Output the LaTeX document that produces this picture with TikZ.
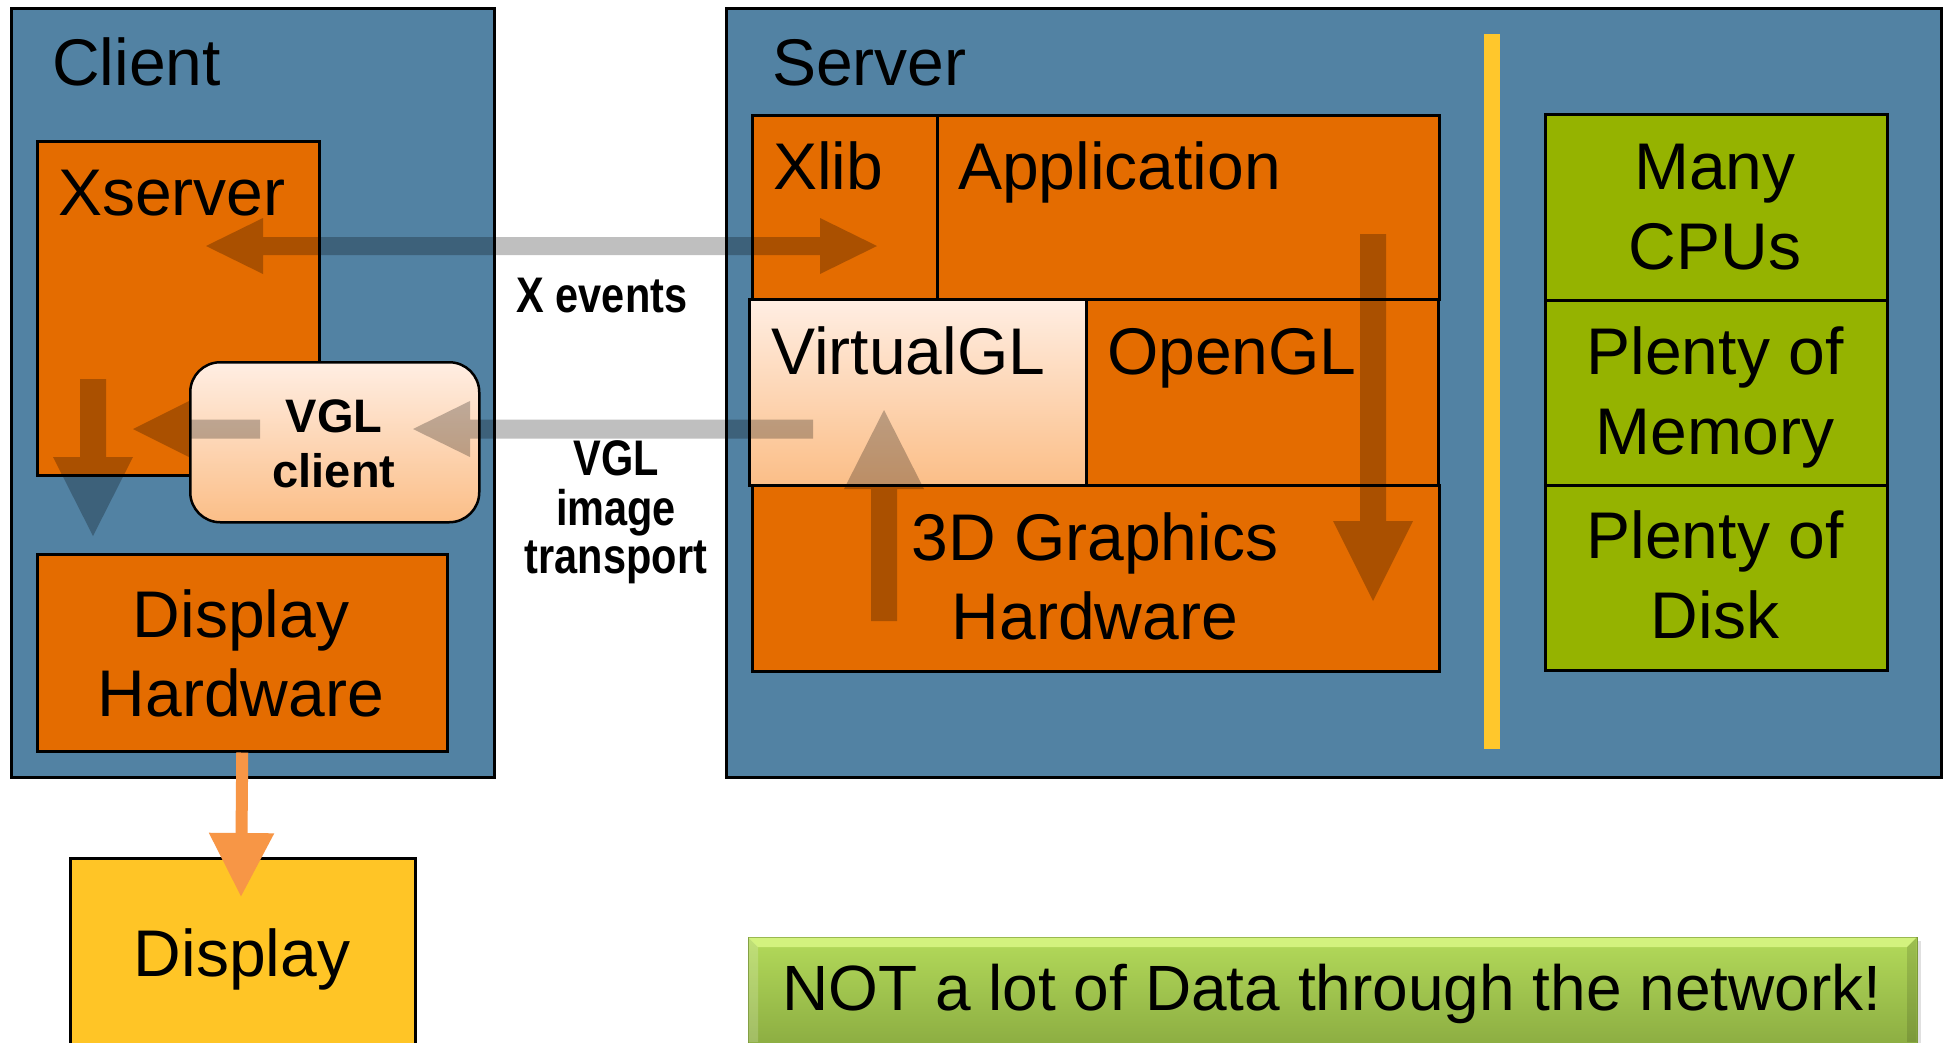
\documentclass[tikz,border=0pt]{standalone}
\usepackage{fontspec}
\setmainfont{Liberation Sans}
\newfontfamily\narrowfont{Liberation Sans}[FakeStretch=0.83]
\usetikzlibrary{calc,arrows.meta,shadings}
\definecolor{bluebg}{HTML}{5282A3}
\definecolor{orbox}{HTML}{E46C00}
\definecolor{peachtop}{HTML}{FFEEE3}
\definecolor{peachbot}{HTML}{FBBE87}
\definecolor{goldbox}{HTML}{FFC526}
\definecolor{greenbox}{HTML}{95B300}
\definecolor{barcol}{HTML}{FFC72C}
\definecolor{arrowor}{HTML}{F79646}
\definecolor{btop}{HTML}{B3DA5A}
\definecolor{bbot}{HTML}{86A63E}
\definecolor{bhi}{HTML}{D3F27E}
\definecolor{bedge}{HTML}{7C9A38}
\tikzset{
  outerbox/.style={draw=black, line width=2.5pt, fill=bluebg, rectangle, inner sep=0pt, anchor=north west},
  obox/.style={draw=black, line width=2.5pt, fill=orbox, rectangle, inner sep=0pt, anchor=north west},
  pbox/.style={draw=black, line width=2.5pt, top color=peachtop, bottom color=peachbot, rectangle, inner sep=0pt, anchor=north west},
  gbox/.style={draw=black, line width=2.5pt, fill=greenbox, rectangle, inner sep=0pt, anchor=north west},
  lbl/.style={font=\fontsize{66}{79}\selectfont, inner sep=0pt, anchor=base west},
  lblc/.style={font=\fontsize{66}{79}\selectfont, inner sep=0pt, anchor=base},
  vglc/.style={font=\fontsize{47}{55}\selectfont\bfseries, inner sep=0pt, anchor=base},
  narrowlbl/.style={font=\fontsize{50}{58}\selectfont\narrowfont\bfseries, inner sep=0pt, anchor=base},
  blk/.style={fill=black, fill opacity=0.25},
}
\begin{document}
\begin{tikzpicture}[x=1pt,y=-1pt]
\useasboundingbox (0,0) rectangle (1946,1042);
\fill[white] (0,0) rectangle (1946,1042);

% outer boxes
\node[outerbox, minimum width=483pt, minimum height=769pt] (client) at (10,7) {};
\node[outerbox, minimum width=1215pt, minimum height=769pt] (server) at (725,7) {};

% client side
\node[obox, minimum width=282pt, minimum height=334pt] (xserver) at (36,140) {};
\node[obox, minimum width=410pt, minimum height=197pt] (dh) at (36,553) {};
\node[pbox, rounded corners=30pt, minimum width=289pt, minimum height=160pt] (vglc) at (189,361) {};
\node[draw=black, line width=2.5pt, fill=goldbox, rectangle, inner sep=0pt, anchor=north west,
      minimum width=345pt, minimum height=203pt] (disp) at (69,857) {};

% server side
\node[obox, minimum width=185pt, minimum height=184pt] (xlib) at (751,114) {};
\node[obox, minimum width=502pt, minimum height=184pt] (app) at (936,114) {};
\node[pbox, minimum width=337pt, minimum height=186pt] (vgl) at (748,298) {};
\node[obox, minimum width=352pt, minimum height=186pt] (ogl) at (1085,298) {};
\node[obox, minimum width=687pt, minimum height=186pt] (gfx) at (751,484) {};
\fill[barcol] (1484,34) rectangle (1500,749);
\node[gbox, minimum width=342pt, minimum height=186pt] (cpu) at (1544,113) {};
\node[gbox, minimum width=342pt, minimum height=185pt] (mem) at (1544,299) {};
\node[gbox, minimum width=342pt, minimum height=185pt] (disk) at (1544,484) {};

% bottom banner with bevel
\fill[black!12] (752,941) rectangle (1921,1046);
\node[draw=bedge, line width=1pt, top color=btop, bottom color=bbot, rectangle, inner sep=0pt,
      anchor=north west, minimum width=1169pt, minimum height=125pt] (banner) at (748,937) {};
\fill[bhi] (748.5,937.5) -- (1916.5,937.5) -- (1907,947) -- (758,947) -- cycle;
\fill[white, fill opacity=0.18] (748.5,937.5) -- (758,947) -- (758,1042) -- (748.5,1042) -- cycle;
\fill[black, fill opacity=0.12] (1916.5,937.5) -- (1907,947) -- (1907,1042) -- (1916.5,1042) -- cycle;

% labels
\node[lbl] (tclient) at (52,85) {Client};
\node[lbl] (tserver) at (772,85) {Server};
\node[lbl] (txserver) at (58,215) {Xserver};
\node[lblc] (tdh1) at (241,637) {Display};
\node[lblc] (tdh2) at (241,716) {Hardware};
\node[lblc] (tdisp) at (242,976) {Display};
\node[vglc] (tvglc1) at (334,432) {VGL};
\node[vglc] (tvglc2) at (334,487) {client};
\node[lbl] (txlib) at (773,189) {Xlib};
\node[lbl] (tapp) at (958,189) {Application};
\node[lbl] (tvgl) at (771,374) {VirtualGL};
\node[lbl] (togl) at (1107,374) {OpenGL};
\node[lblc] (tgfx1) at (1095,560) {3D Graphics};
\node[lblc] (tgfx2) at (1095,639) {Hardware};
\node[lblc] (tcpu1) at (1715,189) {Many};
\node[lblc] (tcpu2) at (1715,269) {CPUs};
\node[lblc] (tmem1) at (1715,374) {Plenty of};
\node[lblc] (tmem2) at (1715,454) {Memory};
\node[lblc] (tdisk1) at (1715,558) {Plenty of};
\node[lblc] (tdisk2) at (1715,638) {Disk};
\node[narrowlbl] (txev) at (602,312) {X events};
\node[narrowlbl] (ttr1) at (616,475) {VGL};
\node[narrowlbl] (ttr2) at (616,525) {image};
\node[narrowlbl] (ttr3) at (616,573) {transport};
\node[font=\fontsize{64}{77}\selectfont, inner sep=0pt, anchor=base] (tbanner) at (1332,1010) {NOT a lot of Data through the network!};

% translucent block arrows
\fill[blk] (206,246) -- (263,218) -- (263,237) -- (820,237) -- (820,218) -- (877,246)
  -- (820,274) -- (820,255) -- (263,255) -- (263,274) -- cycle;
\fill[blk] (813,419.5) -- (470,419.5) -- (470,401) -- (413,429) -- (470,457) -- (470,438.5) -- (813,438.5) -- cycle;
\fill[blk] (260,419.5) -- (189,419.5) -- (189,401) -- (133,429) -- (189,457) -- (189,438.5) -- (260,438.5) -- cycle;
\fill[blk] (80,379) -- (106,379) -- (106,457) -- (133,457) -- (93,536) -- (53,457) -- (80,457) -- cycle;
\fill[blk] (871,621) -- (897,621) -- (897,489) -- (924,489) -- (884,410) -- (844,489) -- (871,489) -- cycle;
\fill[blk] (1360,234) -- (1386,234) -- (1386,521) -- (1413,521) -- (1373,601) -- (1333,521) -- (1360,521) -- cycle;

% display arrow
\coordinate (disptip) at (241,897);
\draw[arrowor, line width=12pt, -{Triangle[width=62pt,length=64pt]}] (dh.south) -- (disptip);
\end{tikzpicture}
\end{document}
